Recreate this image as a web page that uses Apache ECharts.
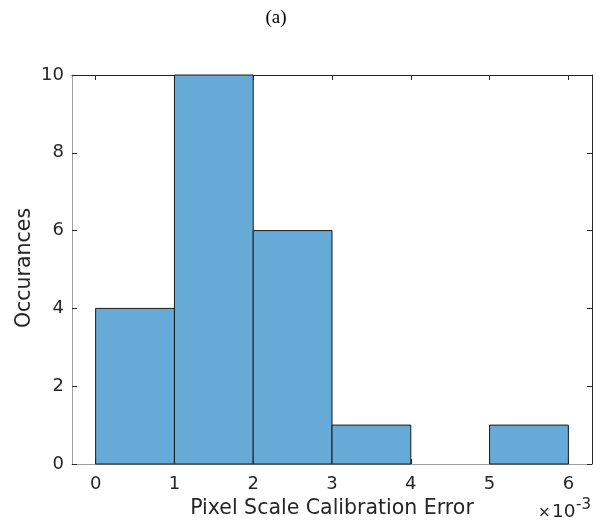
<!DOCTYPE html>
<html>
<head>
<meta charset="utf-8">
<script src="https://cdn.jsdelivr.net/npm/echarts@6/dist/echarts.min.js"></script>
<style>
  html, body { margin: 0; padding: 0; background: #fff; }
  #chart { width: 608px; height: 525px; }
</style>
</head>
<body>
<div id="chart"></div>
<script>
// Histogram of pixel scale calibration error (values in units of 1e-3)
const binEdges = [0, 1, 2, 3, 4, 5, 6];
const counts = [4, 10, 6, 1, 0, 1];
const xTicks = [0, 1, 2, 3, 4, 5, 6];
const yTicks = [0, 2, 4, 6, 8, 10];

const bars = counts.map((c, i) => [binEdges[i], binEdges[i + 1], c]);

const textColor = '#262626';
const font = 'DejaVu Sans';

const chart = echarts.init(document.getElementById('chart'), null, { renderer: 'canvas' });

const baseX = {
  type: 'value', min: -0.3, max: 6.3,
  splitLine: { show: false },
  axisTick: { inside: true, length: 5, customValues: xTicks, lineStyle: { color: textColor } }
};
const baseY = {
  type: 'value', min: 0, max: 10, interval: 2,
  splitLine: { show: false },
  axisTick: { inside: true, length: 5, customValues: yTicks, lineStyle: { color: textColor } }
};

chart.setOption({
  animation: false,
  backgroundColor: '#fff',
  grid: { left: 72, right: 16, top: 75, bottom: 61, containLabel: false },
  xAxis: [
    Object.assign({}, baseX, {
      position: 'bottom',
      axisLine: { show: true, onZero: false, lineStyle: { color: '#a0a0a0', width: 1 } },
      axisLabel: { customValues: xTicks, color: textColor, fontFamily: font, fontSize: 18, margin: 11 }
    }),
    Object.assign({}, baseX, {
      position: 'top',
      axisLine: { show: true, onZero: false, lineStyle: { color: textColor, width: 1 } },
      axisLabel: { show: false }
    })
  ],
  yAxis: [
    Object.assign({}, baseY, {
      position: 'left',
      axisLine: { show: true, onZero: false, lineStyle: { color: '#a0a0a0', width: 1 } },
      axisLabel: { customValues: yTicks, color: textColor, fontFamily: font, fontSize: 18, margin: 8 }
    }),
    Object.assign({}, baseY, {
      position: 'right',
      axisLine: { show: true, onZero: false, lineStyle: { color: textColor, width: 1 } },
      axisLabel: { show: false }
    })
  ],
  graphic: [
    {
      type: 'text', x: 276, y: 18,
      style: {
        text: '(a)', fontFamily: 'Liberation Serif', fontSize: 19,
        fill: '#000', align: 'center', verticalAlign: 'middle'
      }
    },
    {
      type: 'text', x: 332, y: 509,
      style: {
        text: 'Pixel Scale Calibration Error', fontFamily: font, fontSize: 20.5,
        fill: textColor, align: 'center', verticalAlign: 'middle'
      }
    },
    {
      type: 'text', rotation: Math.PI / 2, x: 25, y: 268,
      style: {
        text: 'Occurances', fontFamily: font, fontSize: 20.5,
        fill: textColor, align: 'center', verticalAlign: 'middle'
      }
    },
    // exponent note for the x axis: ×10^-3
    {
      type: 'text', x: 538, y: 521,
      style: {
        text: '×', fontFamily: font, fontSize: 15, fill: textColor,
        align: 'left', verticalAlign: 'bottom'
      }
    },
    {
      type: 'text', x: 552, y: 522,
      style: {
        text: '10', fontFamily: font, fontSize: 18.5, fill: textColor,
        align: 'left', verticalAlign: 'bottom'
      }
    },
    {
      type: 'text', x: 576, y: 498,
      style: {
        text: '-3', fontFamily: font, fontSize: 15, fill: textColor,
        align: 'left', verticalAlign: 'top'
      }
    }
  ],
  series: [{
    type: 'custom',
    xAxisIndex: 0, yAxisIndex: 0,
    data: bars,
    renderItem: function (params, api) {
      const h = api.value(2);
      if (h <= 0) return null;
      const p0 = api.coord([api.value(0), h]);
      const p1 = api.coord([api.value(1), 0]);
      return {
        type: 'rect',
        shape: { x: p0[0], y: p0[1], width: p1[0] - p0[0], height: p1[1] - p0[1] },
        style: { fill: 'rgb(102,170,215)', stroke: '#1a1a1a', lineWidth: 1 }
      };
    }
  }]
});
</script>
</body>
</html>
